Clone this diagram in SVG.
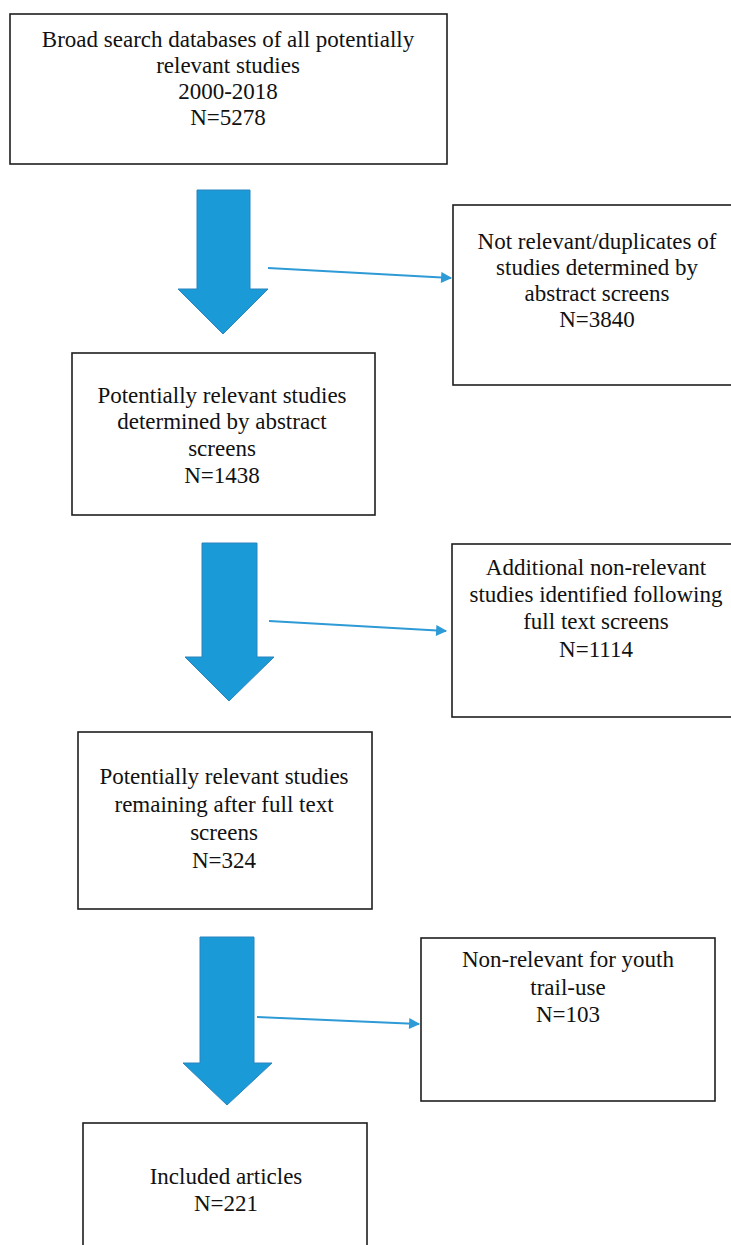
<svg xmlns="http://www.w3.org/2000/svg" width="731" height="1245" viewBox="0 0 731 1245">
<style>
.box{fill:#fff;stroke:#1e1e1e;stroke-width:1.6}
.t{font-family:"Liberation Serif","Times New Roman",serif;font-size:23px;fill:#111;text-anchor:middle}
.big{fill:#1a9ad6;stroke:#2a84bd;stroke-width:1}
.thin{stroke:#2e9ad6;stroke-width:1.8;fill:none}
</style>
<defs>
<marker id="ah" viewBox="0 0 10 10" refX="9" refY="5" markerWidth="12" markerHeight="11" markerUnits="userSpaceOnUse" orient="auto">
<path d="M0,0 L10,5 L0,10 z" fill="#2e9ad6"/>
</marker>
</defs>
<rect width="731" height="1245" fill="#fff"/>
<g id="connectors">
<polygon class="big" points="197,190 250,190 250,289 268,289 223,334 178,289 197,289"/>
<polygon class="big" points="202,543 257,543 257,657 274,657 229,701 185,657 202,657"/>
<polygon class="big" points="200,937 254,937 254,1063 272,1063 227,1105 183,1063 200,1063"/>
<line class="thin" x1="268" y1="268" x2="451" y2="278" marker-end="url(#ah)"/>
<line class="thin" x1="269" y1="621" x2="446" y2="631" marker-end="url(#ah)"/>
<line class="thin" x1="257" y1="1017" x2="419" y2="1024" marker-end="url(#ah)"/>
</g>
<g id="n1">
<rect class="box" x="10" y="14" width="437" height="150"/>
<text class="t" x="228" y="47">Broad search databases of all potentially</text>
<text class="t" x="228" y="73">relevant studies</text>
<text class="t" x="228" y="99">2000-2018</text>
<text class="t" x="228" y="125">N=5278</text>
</g>
<g id="n2">
<rect class="box" x="453" y="205" width="290" height="180"/>
<text class="t" x="597" y="249">Not relevant/duplicates of</text>
<text class="t" x="597" y="275">studies determined by</text>
<text class="t" x="597" y="301">abstract screens</text>
<text class="t" x="597" y="327">N=3840</text>
</g>
<g id="n3">
<rect class="box" x="72" y="353" width="303" height="162"/>
<text class="t" x="222" y="403">Potentially relevant studies</text>
<text class="t" x="222" y="429">determined by abstract</text>
<text class="t" x="222" y="456">screens</text>
<text class="t" x="222" y="483">N=1438</text>
</g>
<g id="n4">
<rect class="box" x="452" y="544" width="290" height="173"/>
<text class="t" x="596" y="575">Additional non-relevant</text>
<text class="t" x="596" y="602">studies identified following</text>
<text class="t" x="596" y="629">full text screens</text>
<text class="t" x="596" y="657">N=1114</text>
</g>
<g id="n5">
<rect class="box" x="78" y="732" width="294" height="177"/>
<text class="t" x="224" y="784">Potentially relevant studies</text>
<text class="t" x="224" y="812">remaining after full text</text>
<text class="t" x="224" y="840">screens</text>
<text class="t" x="224" y="868">N=324</text>
</g>
<g id="n6">
<rect class="box" x="421" y="938" width="294" height="163"/>
<text class="t" x="568" y="967">Non-relevant for youth</text>
<text class="t" x="568" y="995">trail-use</text>
<text class="t" x="568" y="1022">N=103</text>
</g>
<g id="n7">
<rect class="box" x="83" y="1123" width="284" height="140"/>
<text class="t" x="226" y="1184">Included articles</text>
<text class="t" x="226" y="1211">N=221</text>
</g>
</svg>
